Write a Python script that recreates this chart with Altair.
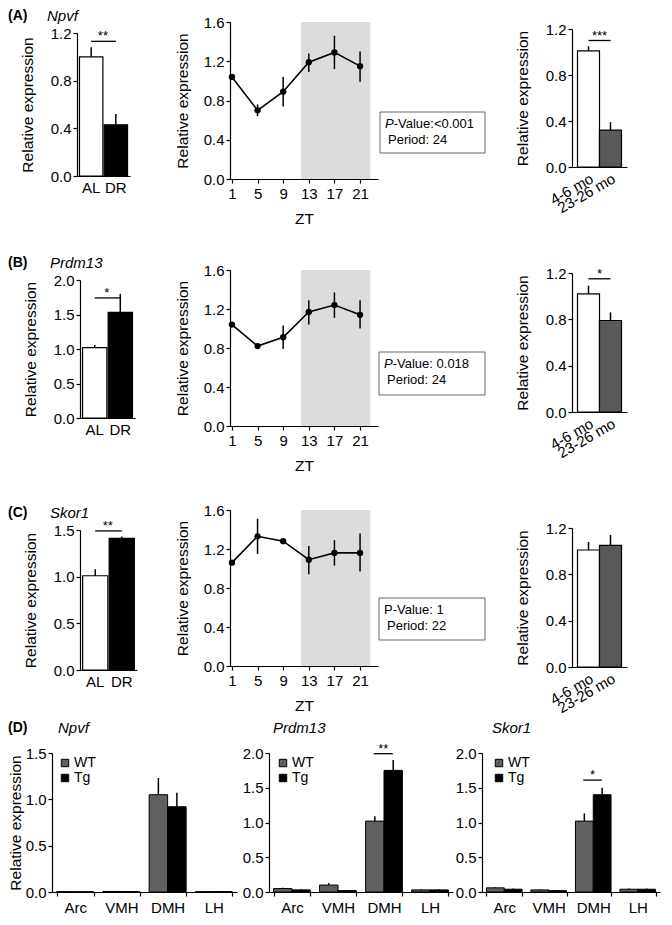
import altair as alt
import pandas as pd

FONT = "Liberation Sans"

# ---------------- data ----------------
diet_groups = ["AL", "DR"]
npvf_diet = [1.00, 0.43]
npvf_diet_top = [1.08, 0.52]
prdm13_diet = [1.02, 1.53]
prdm13_diet_top = [1.06, 1.80]
skor1_diet = [1.01, 1.41]
skor1_diet_top = [1.08, 1.43]
diet_sig = ["**", "*", "**"]
diet_sig_y = [1.13, 1.74, 1.49]

zt = [1, 5, 9, 13, 17, 21]
dark_phase = [11.8, 22.6]
npvf_zt = [1.04, 0.70, 0.89, 1.19, 1.29, 1.15]
npvf_zt_lo = [1.04, 0.64, 0.74, 1.09, 1.12, 0.99]
npvf_zt_hi = [1.04, 0.76, 1.04, 1.28, 1.46, 1.30]
prdm13_zt = [1.04, 0.82, 0.91, 1.17, 1.24, 1.14]
prdm13_zt_lo = [1.04, 0.82, 0.79, 1.04, 1.11, 1.00]
prdm13_zt_hi = [1.04, 0.82, 1.03, 1.29, 1.37, 1.29]
skor1_zt = [1.06, 1.33, 1.28, 1.09, 1.16, 1.16]
skor1_zt_lo = [1.06, 1.15, 1.26, 0.94, 1.03, 0.97]
skor1_zt_hi = [1.06, 1.51, 1.30, 1.23, 1.29, 1.36]
pvalue_text = [":<0.001", ": 0.018", ": 1"]
pvalue_italic = [True, True, False]
period_text = ["Period: 24", "Period: 24", "Period: 22"]

age_groups = ["4-6 mo", "23-26 mo"]
npvf_age = [1.01, 0.32]
npvf_age_top = [1.05, 0.39]
prdm13_age = [1.02, 0.79]
prdm13_age_top = [1.09, 0.86]
skor1_age = [1.01, 1.05]
skor1_age_top = [1.08, 1.14]
age_sig = ["***", "*", ""]
age_sig_y = [1.10, 1.15, None]

regions = ["Arc", "VMH", "DMH", "LH"]
genotypes = ["WT", "Tg"]
npvf_wt = [0.004, 0.006, 1.05, 0.004]
npvf_wt_top = [0.006, 0.008, 1.23, 0.006]
npvf_tg = [0.003, 0.004, 0.92, 0.004]
npvf_tg_top = [0.005, 0.006, 1.07, 0.006]
prdm13_wt = [0.05, 0.10, 1.02, 0.03]
prdm13_wt_top = [0.06, 0.13, 1.09, 0.04]
prdm13_tg = [0.03, 0.02, 1.75, 0.03]
prdm13_tg_top = [0.04, 0.03, 1.90, 0.04]
skor1_wt = [0.06, 0.03, 1.02, 0.04]
skor1_wt_top = [0.07, 0.035, 1.13, 0.05]
skor1_tg = [0.04, 0.02, 1.40, 0.04]
skor1_tg_top = [0.05, 0.03, 1.50, 0.05]
region_sig = ["", "**", "*"]
region_sig_y = [None, 1.99, 1.61]

genes = ["Npvf", "Prdm13", "Skor1"]
letters = ["(A)", "(B)", "(C)", "(D)"]

# ---------------- layout (page pixels) ----------------
OX, OY = 8, 8          # page margin -> chart origin
W, H = 656, 905        # chart size
LABEL_EXT = 27         # room reserved for y tick marks + labels

# plot boxes: (left, right, top, bottom) in page pixels
ROWS = [
    dict(left=(77, 130, 33, 176), mid=(230, 378, 22, 179), right=(572, 627, 29, 167),
         letter=(8, 16), gene=(47, 16), box=(380, 485, 112, 153)),
    dict(left=(80, 135, 280, 418), mid=(230, 378, 270, 426), right=(572, 627, 273, 412),
         letter=(8, 263), gene=(50, 263), box=(379, 485, 352, 395)),
    dict(left=(80, 137, 530, 670), mid=(230, 378, 510, 666), right=(572, 627, 528, 667),
         letter=(8, 513), gene=(50, 513), box=(379, 485, 598, 640)),
]
ROW_D = dict(panels=[(52, 237, 753, 892), (269, 453, 753, 892), (482, 660, 753, 892)],
             letter=(8, 728), genes=[(58, 728), (273, 728), (492, 728)],
             legend=[(58, 756), (276, 756), (492, 756)])


def cx(x):
    return x - OX


def cy(y):
    return y - OY


def y_axis(left, ticks, title, dist):
    return alt.Axis(orient="left", offset=-cx(left), values=ticks, format=".1f",
                    title=title, titlePadding=dist - LABEL_EXT - 8,
                    minExtent=LABEL_EXT, maxExtent=LABEL_EXT)


def band_x_axis(bottom, angle=0, ticks=False):
    kw = dict(orient="bottom", offset=cy(bottom) - H, title=None, labelAngle=angle,
              ticks=ticks, labelPadding=4, labelFlush=False)
    if ticks:
        kw["tickBand"] = "extent"
    return alt.Axis(**kw)


def text_layer(txt, x, y, **kw):
    return alt.Chart(pd.DataFrame({"t": [txt]})).mark_text(
        font=FONT, align="left", baseline="middle", color="black", **kw
    ).encode(x=alt.value(cx(x)), y=alt.value(cy(y)), text="t:N")


def two_bar_panel(groups, vals, tops, fills, sig, sig_y, ymax, ticks, box, rotate, pin, pout):
    l, r, t, b = box
    df = pd.DataFrame({"g": groups, "v": vals, "top": tops})
    xs = alt.Scale(domain=groups, range=[cx(l), cx(r)], paddingInner=pin, paddingOuter=pout)
    xax = band_x_axis(b, 330 if rotate else 0)
    ys = alt.Scale(domain=[0, ymax], range=[cy(b), cy(t)], nice=False)
    yax = y_axis(l, ticks, "Relative expression", 50)
    X = alt.X("g:N", sort=groups, scale=xs, axis=xax)
    bars = alt.Chart(df).mark_bar(stroke="black", strokeWidth=1.2).encode(
        x=X, y=alt.Y("v:Q", scale=ys, axis=yax),
        fill=alt.Fill("g:N", scale=alt.Scale(domain=groups, range=fills), legend=None))
    errs = alt.Chart(df).mark_rule(color="black", strokeWidth=1.5).encode(
        x=X, y=alt.Y("v:Q", scale=ys, axis=yax), y2="top:Q")
    layers = [bars, errs]
    if sig:
        sd = pd.DataFrame({"a": [groups[0]], "b": [groups[1]], "y": [sig_y], "t": [sig]})
        layers.append(alt.Chart(sd).mark_rule(color="black", strokeWidth=1.3).encode(
            x=alt.X("a:N", scale=xs, axis=xax), x2="b:N",
            y=alt.Y("y:Q", scale=ys, axis=yax)))
        layers.append(alt.Chart(sd).mark_text(font=FONT, fontSize=13, baseline="middle", dy=-5).encode(
            x=alt.X("a:N", scale=xs, axis=xax, bandPosition=1),
            y=alt.Y("y:Q", scale=ys, axis=yax), text="t:N"))
    return alt.layer(*layers)


def zt_panel(vals, lo, hi, ptxt, pital, period, box, tbox):
    l, r, t, b = box
    df = pd.DataFrame({"zt": zt, "v": vals, "lo": lo, "hi": hi})
    xs = alt.Scale(domain=[0.7, 23.8], range=[cx(l), cx(r)], nice=False, zero=False)
    xax = alt.Axis(orient="bottom", offset=cy(b) - H, values=zt, title="ZT", format="d",
                   titlePadding=11, labelPadding=3, minExtent=21, maxExtent=21,
                   labelFlush=False)
    ys = alt.Scale(domain=[0, 1.6], range=[cy(b), cy(t)], nice=False)
    yax = y_axis(l, [0, 0.4, 0.8, 1.2, 1.6], "Relative expression", 48)
    X = alt.X("zt:Q", scale=xs, axis=xax)
    shade = alt.Chart(pd.DataFrame({"a": [dark_phase[0]], "b": [dark_phase[1]],
                                    "y0": [0.0], "y1": [1.6]})).mark_rect(color="#dcdcdc").encode(
        x=alt.X("a:Q", scale=xs, axis=xax), x2="b:Q",
        y=alt.Y("y0:Q", scale=ys, axis=yax), y2="y1:Q")
    line = alt.Chart(df).mark_line(color="black", strokeWidth=1.6).encode(
        x=X, y=alt.Y("v:Q", scale=ys, axis=yax))
    errs = alt.Chart(df).mark_rule(color="black", strokeWidth=1.5).encode(
        x=X, y=alt.Y("lo:Q", scale=ys, axis=yax), y2="hi:Q")
    pts = alt.Chart(df).mark_point(filled=True, color="black", size=40, opacity=1).encode(
        x=X, y=alt.Y("v:Q", scale=ys, axis=yax))
    panel = alt.layer(shade, line, errs, pts)
    bl, br, bt, bb = tbox
    frame = alt.Chart(pd.DataFrame({"k": [0]})).mark_rect(
        fill="white", stroke="#666666", strokeWidth=1).encode(
        x=alt.value(cx(bl)), x2=alt.value(cx(br)), y=alt.value(cy(bt)), y2=alt.value(cy(bb)))
    p = text_layer("P", bl + 5, bt + 12, fontSize=13, fontStyle="italic" if pital else "normal")
    rest = text_layer("-Value" + ptxt, bl + 13.7, bt + 12, fontSize=13)
    per = text_layer(period, bl + 8, bt + 28, fontSize=13)
    return [panel, frame, p, rest, per]


def region_panel(wt, wt_top, tg, tg_top, sig, sig_y, ymax, ticks, box, ytitle, legend_pos):
    l, r, t, b = box
    df = pd.DataFrame({
        "r": regions * 2,
        "g": ["WT"] * 4 + ["Tg"] * 4,
        "v": wt + tg,
        "top": wt_top + tg_top,
    })
    xs = alt.Scale(domain=regions, range=[cx(l), cx(r)], paddingInner=0.2, paddingOuter=0.1)
    xax = band_x_axis(b, 0, ticks=True)
    os_ = alt.Scale(domain=genotypes, paddingInner=0, paddingOuter=0)
    ys = alt.Scale(domain=[0, ymax], range=[cy(b), cy(t)], nice=False)
    yax = y_axis(l, ticks, "Relative expression" if ytitle else None, 37)
    X = alt.X("r:N", sort=regions, scale=xs, axis=xax)
    XO = alt.XOffset("g:N", sort=genotypes, scale=os_)
    lx, ly = legend_pos
    bars = alt.Chart(df).mark_bar(stroke="black", strokeWidth=1).encode(
        x=X, xOffset=XO, y=alt.Y("v:Q", scale=ys, axis=yax),
        fill=alt.Fill("g:N", sort=genotypes,
                      scale=alt.Scale(domain=genotypes, range=["#606060", "black"]),
                      legend=alt.Legend(orient="none", legendX=cx(lx), legendY=cy(ly),
                                        title=None, padding=0,
                                        symbolType="square", symbolSize=55,
                                        symbolStrokeColor="black", symbolStrokeWidth=1,
                                        labelFont=FONT, labelFontSize=14, labelOffset=2,
                                        rowPadding=1, labelColor="black")))
    errs = alt.Chart(df).mark_rule(color="black", strokeWidth=1.5).encode(
        x=X, xOffset=XO, y=alt.Y("v:Q", scale=ys, axis=yax), y2="top:Q")
    layers = [bars, errs]
    if sig:
        sd = pd.DataFrame({"a": ["DMH"], "y": [sig_y], "t": [sig]})
        layers.append(alt.Chart(sd).mark_rule(color="black", strokeWidth=1.3).encode(
            x=alt.X("a:N", scale=xs, axis=xax, bandPosition=0.22),
            x2=alt.X2("a:N", bandPosition=0.74),
            y=alt.Y("y:Q", scale=ys, axis=yax)))
        layers.append(alt.Chart(sd).mark_text(font=FONT, fontSize=13, baseline="middle", dy=-5).encode(
            x=alt.X("a:N", scale=xs, axis=xax, bandPosition=0.48),
            y=alt.Y("y:Q", scale=ys, axis=yax), text="t:N"))
    return alt.layer(*layers)


diet_vals = [(npvf_diet, npvf_diet_top), (prdm13_diet, prdm13_diet_top), (skor1_diet, skor1_diet_top)]
diet_ymax = [1.2, 2.0, 1.5]
diet_ticks = [[0, 0.4, 0.8, 1.2], [0, 0.5, 1.0, 1.5, 2.0], [0, 0.5, 1.0, 1.5]]
zt_vals = [(npvf_zt, npvf_zt_lo, npvf_zt_hi), (prdm13_zt, prdm13_zt_lo, prdm13_zt_hi),
           (skor1_zt, skor1_zt_lo, skor1_zt_hi)]
age_vals = [(npvf_age, npvf_age_top), (prdm13_age, prdm13_age_top), (skor1_age, skor1_age_top)]

layers = []
for i in range(3):
    g = ROWS[i]
    layers.append(two_bar_panel(diet_groups, diet_vals[i][0], diet_vals[i][1], ["white", "black"],
                                diet_sig[i], diet_sig_y[i], diet_ymax[i], diet_ticks[i], g["left"],
                                False, 0.05, 0.1))
    layers += zt_panel(zt_vals[i][0], zt_vals[i][1], zt_vals[i][2], pvalue_text[i], pvalue_italic[i],
                       period_text[i], g["mid"], g["box"])
    layers.append(two_bar_panel(age_groups, age_vals[i][0], age_vals[i][1], ["white", "#595959"],
                                age_sig[i], age_sig_y[i], 1.2, [0, 0.4, 0.8, 1.2], g["right"],
                                True, 0.0, 0.25))
    layers.append(text_layer(letters[i], *g["letter"], fontSize=14, fontWeight="bold"))
    layers.append(text_layer(genes[i], *g["gene"], fontSize=15, fontStyle="italic"))

reg_vals = [(npvf_wt, npvf_wt_top, npvf_tg, npvf_tg_top),
            (prdm13_wt, prdm13_wt_top, prdm13_tg, prdm13_tg_top),
            (skor1_wt, skor1_wt_top, skor1_tg, skor1_tg_top)]
reg_ymax = [1.5, 2.0, 2.0]
reg_ticks = [[0, 0.5, 1.0, 1.5], [0, 0.5, 1.0, 1.5, 2.0], [0, 0.5, 1.0, 1.5, 2.0]]
for i in range(3):
    wt, wtt, tg, tgt = reg_vals[i]
    layers.append(region_panel(wt, wtt, tg, tgt, region_sig[i], region_sig_y[i], reg_ymax[i],
                               reg_ticks[i], ROW_D["panels"][i], i == 0, ROW_D["legend"][i]))
    layers.append(text_layer(genes[i], *ROW_D["genes"][i], fontSize=15, fontStyle="italic"))
layers.append(text_layer(letters[3], *ROW_D["letter"], fontSize=14, fontWeight="bold"))

chart = alt.layer(*layers).resolve_scale(
    x="independent", y="independent", fill="independent", xOffset="independent"
).resolve_axis(x="independent", y="independent").resolve_legend(fill="independent").properties(
    width=W, height=H, padding=0
).configure_view(stroke=None).configure_axis(
    labelFont=FONT, titleFont=FONT, labelFontSize=15, titleFontSize=15.5, titleFontWeight="normal",
    labelColor="black", titleColor="black", domainColor="black", tickColor="black",
    domainWidth=1.2, tickWidth=1.2, tickSize=4, labelPadding=2, grid=False
).configure_text(font=FONT, color="black")

chart.save("out.html", embed_options={"renderer": "svg", "actions": False})
